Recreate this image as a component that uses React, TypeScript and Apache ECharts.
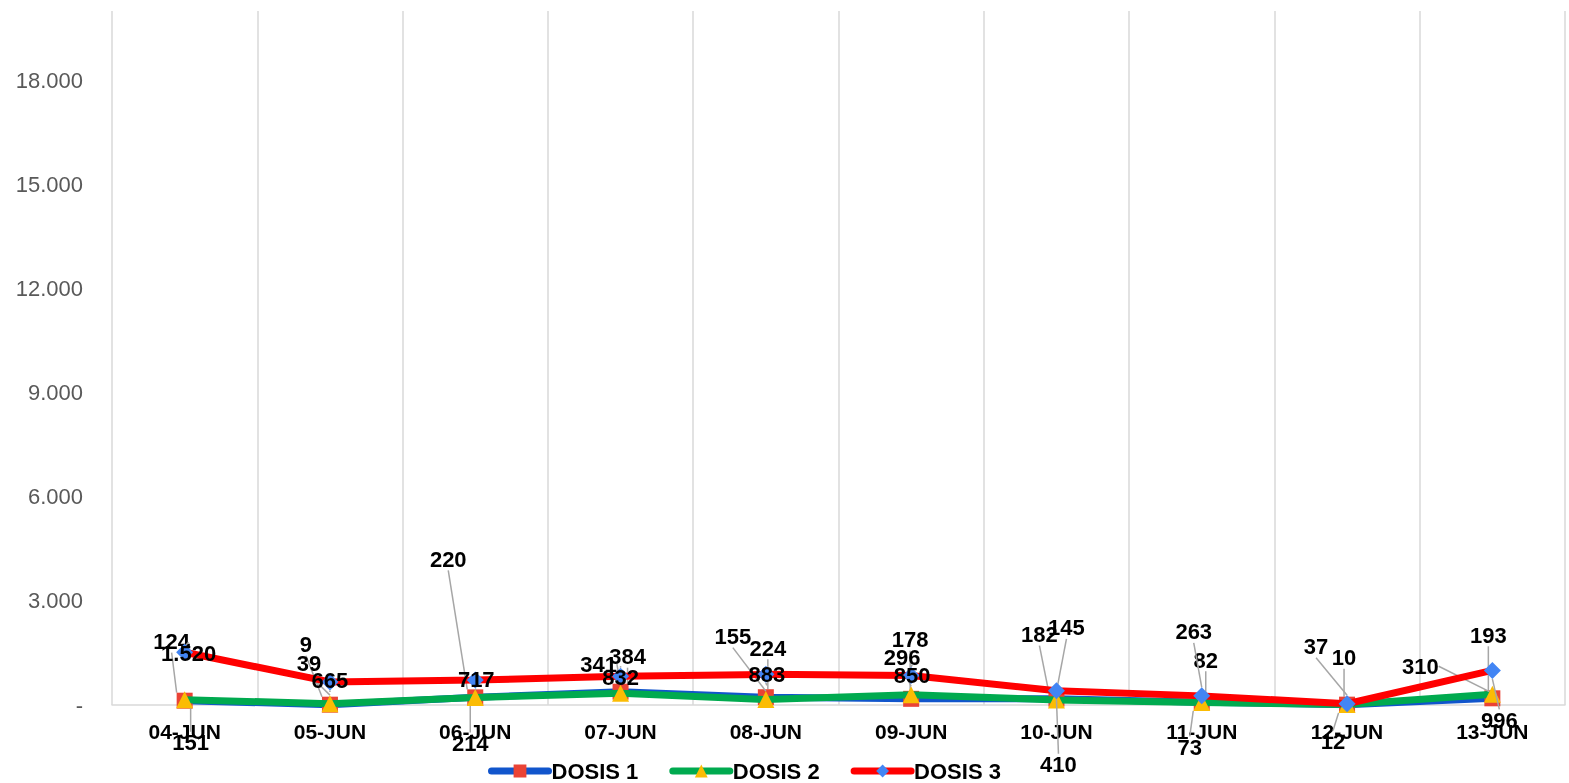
import React, { useEffect, useRef } from "react";
import * as echarts from "echarts";

const categories = ["04-JUN", "05-JUN", "06-JUN", "07-JUN", "08-JUN", "09-JUN", "10-JUN", "11-JUN", "12-JUN", "13-JUN"];
const dosis1 = [124, 9, 220, 384, 224, 178, 182, 82, 10, 193];
const dosis2 = [151, 39, 214, 341, 155, 296, 145, 73, 12, 310];
const dosis3 = [1520, 665, 717, 832, 883, 850, 410, 263, 37, 996];
const yTicks = [0, 3000, 6000, 9000, 12000, 15000, 18000];

// label offsets (pixels) relative to each point, per series
const offsets1 = [[-13, -59], [-24, -60], [-27, -138], [7, -35], [2, -49], [-1, -59], [-17, -64], [4, -42], [-3, -47], [-4, -63]];
const offsets2 = [[6, 43], [-21, -40], [-5, 46], [-22, -29], [-33, -63], [-9, -37], [10, -72], [-12, 45], [-14, 37], [-72, -28]];
const offsets3 = [[4, 1], [0, -1], [1, -1], [0, 1], [1, 0], [1, 0], [2, 74], [-8, -64], [-31, -57], [7, 50]];
const allOffsets = [offsets1, offsets2, offsets3];

const fmt = (v: number) => {
  if (v === 0) return "-";
  return String(Math.round(v)).replace(/\B(?=(\d{3})+(?!\d))/g, ".");
};

const FONT = "Liberation Sans, Arial, sans-serif";

export default function App() {
  const ref = useRef<HTMLDivElement>(null);
  useEffect(() => {
    if (!ref.current) return;
    const chart = echarts.init(ref.current, undefined, { renderer: "svg" });
    const labelCommon = {
      show: true,
      position: "inside",
      color: "#000",
      fontFamily: FONT,
      fontWeight: "bold",
      fontSize: 22,
      formatter: (p: any) => fmt(p.value),
    };
    const labelLine = { show: true, lineStyle: { color: "#a6a6a6", width: 1.5 } };
    chart.setOption({
      animation: false,
      grid: { left: 112, right: 4, top: 11, bottom: 78, containLabel: false },
      legend: {
        left: 488,
        top: 760,
        padding: 0,
        itemWidth: 57,
        itemHeight: 16,
        itemGap: 31,
        lineStyle: { width: 7, cap: "round" },
        textStyle: { color: "#000", fontSize: 22, lineHeight: 22, fontWeight: "bold", fontFamily: FONT, padding: [0, 0, 0, -2] },
        data: ["DOSIS 1", "DOSIS 2", "DOSIS 3"],
      },
      xAxis: {
        type: "category",
        data: categories,
        boundaryGap: true,
        axisLine: { show: true, lineStyle: { color: "#d9d9d9", width: 1.5 } },
        axisTick: { show: false },
        splitLine: { show: true, lineStyle: { color: "#d9d9d9", width: 1.5 } },
        axisLabel: {
          color: "#000",
          fontSize: 21,
          fontWeight: "bold",
          fontFamily: FONT,
          margin: 16,
        },
      },
      yAxis: {
        type: "value",
        min: 0,
        max: 20000,
        interval: 3000,
        axisLine: { show: false },
        axisTick: { show: false },
        splitLine: { show: false },
        axisLabel: {
          color: "#595959",
          fontSize: 22,
          fontFamily: FONT,
          margin: 29,
          formatter: (v: number) => (yTicks.includes(v) ? fmt(v) : ""),
        },
      },
      labelLayout: (params: any) => {
        const o = allOffsets[params.seriesIndex]?.[params.dataIndex];
        if (!o) return {};
        return { dx: o[0], dy: o[1] };
      },
      series: [
        {
          name: "DOSIS 1",
          type: "line",
          data: dosis1,
          z: 2,
          symbol: "rect",
          symbolSize: 16,
          showAllSymbol: true,
          lineStyle: { color: "#1155CC", width: 7, cap: "round" },
          itemStyle: { color: "#EA4335", borderWidth: 0 },
          label: labelCommon,
          labelLine,
        },
        {
          name: "DOSIS 2",
          type: "line",
          data: dosis2,
          z: 3,
          symbol: "triangle",
          symbolSize: 17,
          showAllSymbol: true,
          lineStyle: { color: "#00AA4F", width: 7, cap: "round" },
          itemStyle: { color: "#FBBC04", borderWidth: 0 },
          label: labelCommon,
          labelLine,
        },
        {
          name: "DOSIS 3",
          type: "line",
          data: dosis3,
          z: 4,
          symbol: "diamond",
          symbolSize: 17,
          showAllSymbol: true,
          lineStyle: { color: "#FF0000", width: 7, cap: "round" },
          itemStyle: { color: "#4285F4", borderWidth: 0 },
          label: labelCommon,
          labelLine,
        },
      ],
    });
    return () => chart.dispose();
  }, []);
  return <div ref={ref} style={{ position: "fixed", left: 0, top: 0, width: 1569, height: 783 }} />;
}
